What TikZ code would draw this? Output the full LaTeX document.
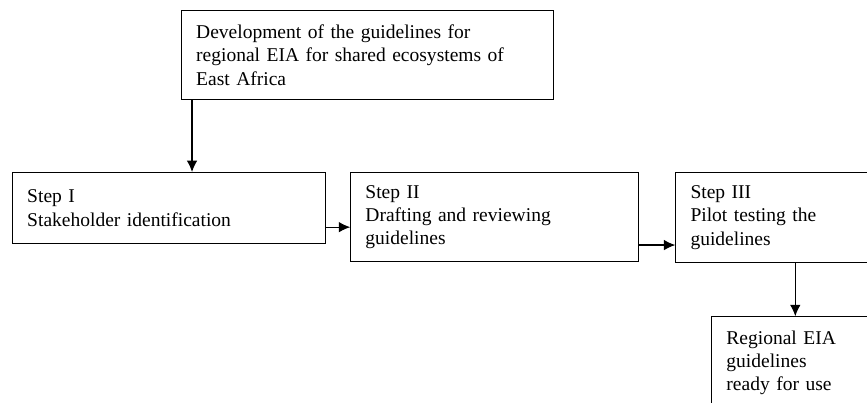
\documentclass[tikz,border=0pt]{standalone}
\usepackage{fontspec}
\setmainfont{Liberation Serif}
\usepackage{tikz}
\usetikzlibrary{positioning,arrows.meta}

\begin{document}
\begin{tikzpicture}[auto, >={Latex[length=7pt,width=6.5pt]}]
\tikzset{
block/.style    = {draw, line width=0.7pt, shape=rectangle, fill=white, inner xsep=9pt, inner ysep=0pt, align=left, font=\fontsize{12}{14.4}\selectfont},
link/.style     = {->, line width=0.7pt},
}
    \useasboundingbox (0,0) rectangle (533.2pt,-247.8pt);
    \clip (0,0) rectangle (533.2pt,-247.8pt);

    % Boxes
    \node [block, anchor=north west, text width=210.8pt, minimum height=54.7pt] (develop) at (111.3pt,-6.15pt)
        {Development of the guidelines for\\regional EIA for shared ecosystems of\\East Africa};
    \node [block, anchor=north west, text width=174.5pt, minimum height=43.7pt] (stepone) at (7.4pt,-105.8pt)
        {Step I\\Stakeholder identification};
    \node [block, text width=159.1pt, minimum height=54.7pt, right=14.8pt of stepone.north east, anchor=north west] (steptwo)
        {Step II\\Drafting and reviewing\\guidelines};
    \node [block, text width=112pt, minimum height=55.4pt, right=22.1pt of steptwo.north east, anchor=north west] (stepthree)
        {Step III\\Pilot testing the\\guidelines};
    \node [block, text width=142pt, minimum height=56.6pt, below right=32.6pt and 22.1pt of stepthree.south west, anchor=north west] (ready)
        {Regional EIA\\guidelines\\ready for use};

    % Arrows
    \coordinate (a0) at ([xshift=6.8pt]develop.south west);
    \coordinate (a1) at ([yshift=10.5pt]stepone.south east);
    \coordinate (a2) at ([yshift=10.5pt]steptwo.south east);
    \coordinate (a3) at ([xshift=73.8pt]stepthree.south west);
    \draw [link]  (a0)  --  (a0 |- stepone.north);
    \draw [link]  (a1)  --  (a1 -| steptwo.west);
    \draw [link]  (a2)  --  (a2 -| stepthree.west);
    \draw [link]  (a3)  --  (a3 |- ready.north);

\end{tikzpicture}
\end{document}
